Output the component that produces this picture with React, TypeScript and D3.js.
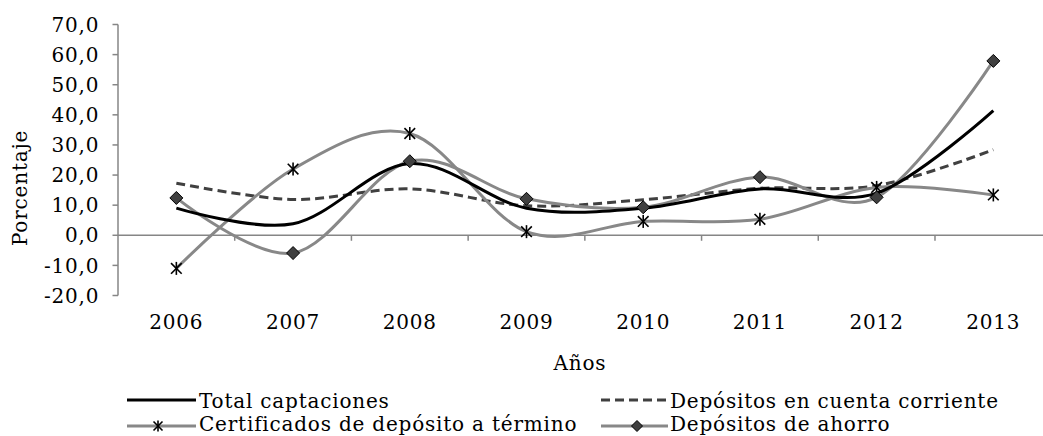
import React from "react";
import * as d3 from "d3";

const years = ["2006", "2007", "2008", "2009", "2010", "2011", "2012", "2013"];
const totalCaptaciones = [9.0, 3.8, 23.8, 9.0, 9.0, 15.4, 14.0, 41.4];
const cuentaCorriente = [17.3, 11.9, 15.4, 9.8, 11.8, 15.6, 16.5, 28.4];
const certificados = [-11.0, 22.0, 33.8, 1.2, 4.6, 5.3, 15.9, 13.4];
const ahorro = [12.4, -5.9, 24.6, 12.1, 9.3, 19.3, 12.6, 57.9];
const yTicks = [-20, -10, 0, 10, 20, 30, 40, 50, 60, 70];
const legendLabels = [
  "Total captaciones",
  "Depósitos en cuenta corriente",
  "Certificados de depósito a término",
  "Depósitos de ahorro",
];

const W = 1043;
const H = 436;
const FONT = "'DejaVu Serif', serif";
const FS = 20;
const LS = 0.8;
const GRAY = "#888888";
const AXIS = "#868686";

const x = d3.scaleBand<string>().domain(years).range([118, 1051.7]).padding(0);
const y = d3.scaleLinear().domain([-20, 70]).range([295.5, 24.5]);
const cx = (i: number) => (x(years[i]) as number) + x.bandwidth() / 2;

const line = d3
  .line<number>()
  .x((_, i) => cx(i))
  .y((d) => y(d))
  .curve(d3.curveCatmullRom.alpha(0));

const fmt = (v: number) => v.toFixed(1).replace(".", ",");

function Star({ px, py, s = 6.5 }: { px: number; py: number; s?: number }) {
  const d = s * 0.82;
  return (
    <g stroke="#000" strokeWidth={1.6} fill="none">
      <line x1={px - d} y1={py - d} x2={px + d} y2={py + d} />
      <line x1={px - d} y1={py + d} x2={px + d} y2={py - d} />
      <line x1={px} y1={py - s} x2={px} y2={py + s} />
    </g>
  );
}

function Diamond({ px, py, s = 6.5 }: { px: number; py: number; s?: number }) {
  return (
    <path
      d={`M${px},${py - s}L${px + s},${py}L${px},${py + s}L${px - s},${py}Z`}
      fill="#404040"
      stroke="#000"
      strokeWidth={1}
    />
  );
}

export default function App() {
  const y0 = y(0);
  return (
    <svg
      width={W}
      height={H}
      style={{ position: "absolute", left: 0, top: 0 }}
      fontFamily={FONT}
      fontSize={FS}
      letterSpacing={LS}
    >
      <rect width={W} height={H} fill="#fff" />
      {/* Y axis */}
      <line x1={118} y1={y(70)} x2={118} y2={y(-20)} stroke={AXIS} strokeWidth={1.5} />
      {yTicks.map((t) => (
        <g key={t}>
          <line x1={112.5} x2={118} y1={y(t)} y2={y(t)} stroke={AXIS} strokeWidth={1.5} />
          <text x={99.3} y={y(t)} dy="0.36em" textAnchor="end" fill="#000">
            {fmt(t)}
          </text>
        </g>
      ))}
      {/* X axis at zero */}
      <line x1={118} x2={W} y1={y0} y2={y0} stroke={AXIS} strokeWidth={1.5} />
      {years.map((yr, i) => (
        <g key={yr}>
          {i > 0 && (
            <line
              x1={x(yr) as number}
              x2={x(yr) as number}
              y1={y0}
              y2={y0 + 5.5}
              stroke={AXIS}
              strokeWidth={1.5}
            />
          )}
          <text x={cx(i)} y={329} textAnchor="middle" fill="#000">
            {yr}
          </text>
        </g>
      ))}
      <text x={580} y={370} textAnchor="middle" fill="#000">
        Años
      </text>
      <text transform="translate(27,188) rotate(-90)" textAnchor="middle" fill="#000">
        Porcentaje
      </text>

      {/* Series lines */}
      <path d={line(cuentaCorriente) || ""} fill="none" stroke="#404040" strokeWidth={3} strokeDasharray="9,5" />
      <path d={line(certificados) || ""} fill="none" stroke={GRAY} strokeWidth={3} />
      <path d={line(ahorro) || ""} fill="none" stroke={GRAY} strokeWidth={3} />
      <path d={line(totalCaptaciones) || ""} fill="none" stroke="#000" strokeWidth={3} />
      {certificados.map((v, i) => (
        <Star key={"s" + i} px={cx(i)} py={y(v)} />
      ))}
      {ahorro.map((v, i) => (
        <Diamond key={"d" + i} px={cx(i)} py={y(v)} />
      ))}

      {/* Legend */}
      <g>
        <line x1={127} x2={196} y1={400} y2={400} stroke="#000" strokeWidth={3} />
        <text x={199} y={407.5} fill="#000">{legendLabels[0]}</text>
        <line x1={601} x2={668} y1={400} y2={400} stroke="#404040" strokeWidth={3} strokeDasharray="9,5" />
        <text x={670} y={407.5} fill="#000">{legendLabels[1]}</text>
        <line x1={127} x2={196} y1={426} y2={426} stroke={GRAY} strokeWidth={3} />
        <Star px={158} py={426} s={5.5} />
        <text x={199} y={431} fill="#000">{legendLabels[2]}</text>
        <line x1={601} x2={668} y1={426} y2={426} stroke={GRAY} strokeWidth={3} />
        <Diamond px={637} py={426} s={5.5} />
        <text x={670} y={431} fill="#000">{legendLabels[3]}</text>
      </g>
    </svg>
  );
}
